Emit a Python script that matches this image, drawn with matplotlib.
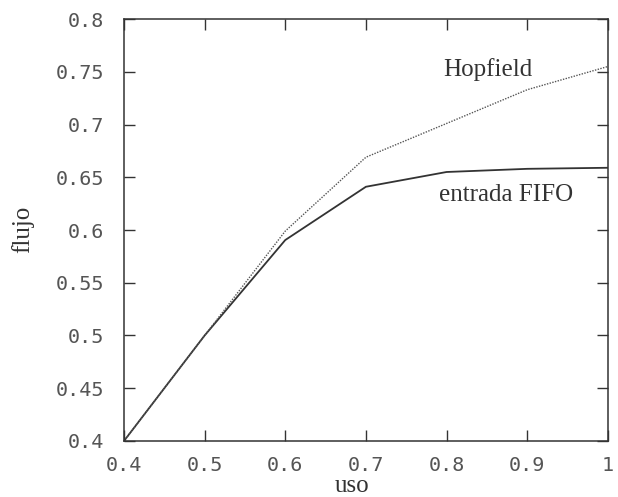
import numpy as np
from matplotlib import pyplot as plt

# data
uso = [0.4, 0.5, 0.6, 0.7, 0.8, 0.9, 1.0]
hopfield = [0.4, 0.5, 0.599, 0.669, 0.701, 0.733, 0.755]
fifo = [0.4, 0.5, 0.5905, 0.641, 0.655, 0.658, 0.659]

xticks = [0.4, 0.5, 0.6, 0.7, 0.8, 0.9, 1.0]
xlabels = ["0.4", "0.5", "0.6", "0.7", "0.8", "0.9", "1"]
yticks = [0.4, 0.45, 0.5, 0.55, 0.6, 0.65, 0.7, 0.75, 0.8]
ylabels = ["0.4", "0.45", "0.5", "0.55", "0.6", "0.65", "0.7", "0.75", "0.8"]

ink = "#333333"

fig = plt.figure(figsize=(6.18, 4.97), dpi=100)
ax = fig.add_axes([0.2006, 0.1127, 0.783, 0.849])

ax.plot(uso, fifo, c=ink, lw=1.3, solid_joinstyle="miter")
ax.plot(uso, hopfield, c="#555555", lw=1.0, ls=(0, (1, 1)))

ax.set_xlim(0.4, 1.0)
ax.set_ylim(0.4, 0.8)
ax.set_xticks(xticks)
ax.set_xticklabels(xlabels)
ax.set_yticks(yticks)
ax.set_yticklabels(ylabels)

for lbl in ax.get_xticklabels() + ax.get_yticklabels():
    lbl.set_fontfamily("DejaVu Sans Mono")
    lbl.set_fontsize(14.5)
    lbl.set_color("#555555")

ax.tick_params(direction="in", length=8, width=1.0, color=ink,
               top=True, right=True)
ax.tick_params(axis="y", pad=14)
ax.tick_params(axis="x", pad=11)
for s in ax.spines.values():
    s.set_color(ink)
    s.set_linewidth(1.1)

serif = "Liberation Serif"
ax.text(0.796, 0.752, "Hopfield", family=serif, size=18, color=ink, va="center")
ax.text(0.79, 0.633, "entrada FIFO", family=serif, size=18, color=ink, va="center")

# axis titles placed by hand, as in the scan
fig.text(352 / 618, 1 - 486 / 497, "uso", family=serif, size=18, color=ink,
         ha="center", va="center")
fig.text(23 / 618, 1 - 229 / 497, "flujo", family=serif, size=18, color=ink,
         ha="center", va="center", rotation=90)

plt.savefig("out.png", dpi=100)
